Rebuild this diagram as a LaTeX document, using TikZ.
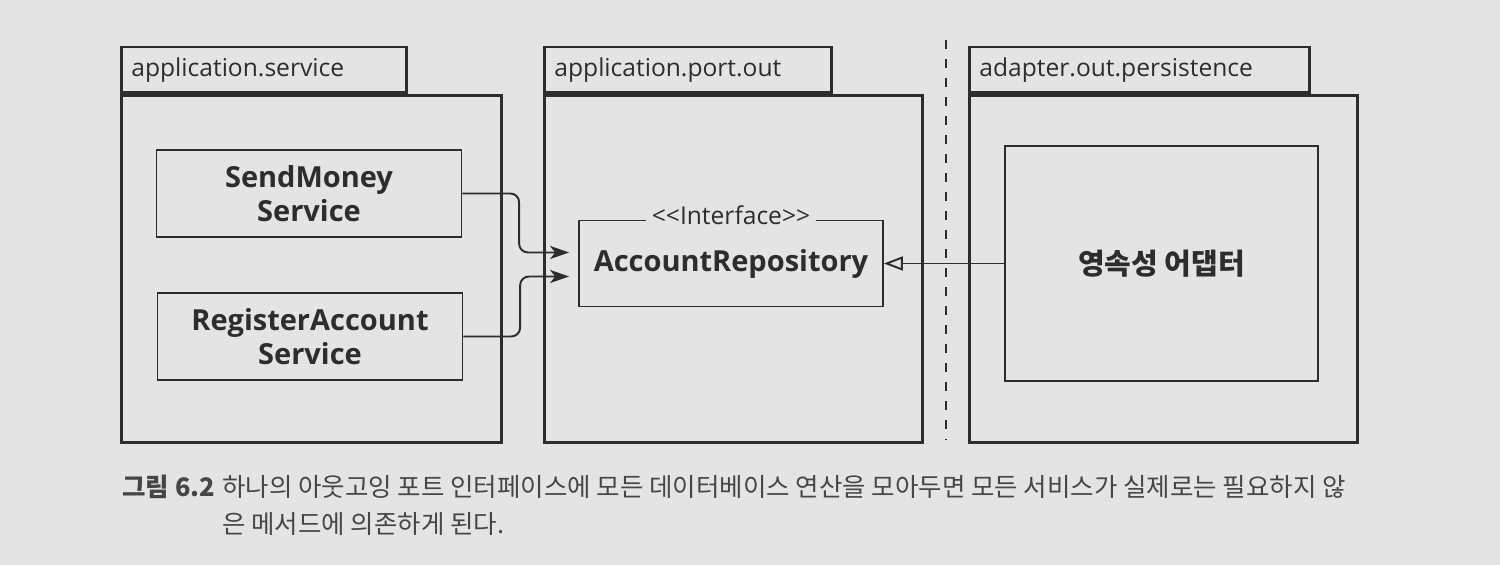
\documentclass[tikz,border=0pt]{standalone}
\usepackage{fontspec}
\setmainfont{Open Sans}
\newfontfamily\krfont{Noto Sans CJK KR}
\usetikzlibrary{arrows.meta,positioning}
\definecolor{paper}{RGB}{228,228,228}
\definecolor{ink}{RGB}{45,45,45}
\definecolor{capink}{RGB}{70,70,70}
\newcommand{\pkgsize}{\fontsize{14pt}{16pt}\selectfont}
\newcommand{\boxsize}{\fontsize{16.5pt}{19.5pt}\selectfont\bfseries}
\newcommand{\capsize}{\fontsize{14.5pt}{17pt}\selectfont}

\begin{document}
\begin{tikzpicture}[
  pkgtab/.style={draw=ink, line width=1.6pt, minimum height=0.91cm, inner xsep=0.2cm, align=left, anchor=south west, font=\pkgsize, text=ink},
  pkgbody/.style={draw=ink, line width=1.6pt, minimum height=6.95cm, anchor=north west},
  classbox/.style={draw=ink, line width=1pt, align=center, font=\boxsize, text=ink},
  dep/.style={draw=ink, line width=1.1pt, rounded corners=5pt, -{Stealth[length=0.38cm,width=0.26cm,inset=0.1cm]}},
  realize/.style={draw=ink, line width=1.1pt, -{Triangle[open,length=0.38cm,width=0.28cm,fill=paper]}},
  sepline/.style={draw=ink, line width=1.2pt, dash pattern=on 0.18cm off 0.2cm}
]
\fill[paper] (0,0) rectangle (30,11.3);
\useasboundingbox (0,0) rectangle (30,11.3);

% packages
\node[pkgbody, minimum width=7.6cm] (svcbody) at (2.40,9.42) {};
\node[pkgtab, text width=5.3cm] (svctab) at (svcbody.north west) {application.service};
\node[pkgbody, minimum width=7.56cm] (portbody) at (10.86,9.42) {};
\node[pkgtab, text width=5.34cm] (porttab) at (portbody.north west) {application.port.out};
\node[pkgbody, minimum width=7.76cm] (adptbody) at (19.36,9.42) {};
\node[pkgtab, text width=6.4cm] (adpttab) at (adptbody.north west) {adapter.out.persistence};

% separator
\coordinate (sepTop) at (18.92,10.5);
\coordinate (sepBot) at (18.92,2.5);
\draw[sepline] (sepTop) -- (sepBot);

% classes
\node[classbox, minimum width=6.1cm, minimum height=1.74cm] (sendsvc) at (6.18,7.43) {SendMoney\\Service};
\node[classbox, minimum width=6.1cm, minimum height=1.74cm] (regsvc) at (6.20,4.57) {RegisterAccount\\Service};
\node[classbox, minimum width=6.08cm, minimum height=1.72cm] (repo) at (14.62,6.03) {AccountRepository};
\node[fill=paper, inner xsep=0.12cm, inner ysep=1pt, font=\fontsize{14pt}{16pt}\selectfont, text=ink] (stereo) at ([yshift=0.08cm]repo.north) {<\kern0pt<Interface>\kern0pt>};
\node[classbox, minimum width=6.26cm, minimum height=4.7cm] (adapter) at (23.23,6.03) {\krfont\bfseries 영속성 어댑터};

% connectors
\draw[dep] (sendsvc.east) -| ([xshift=-1.18cm,yshift=0.22cm]repo.west) -- ([xshift=-0.18cm,yshift=0.22cm]repo.west);
\draw[dep] (regsvc.east) -| ([xshift=-1.16cm,yshift=-0.26cm]repo.west) -- ([xshift=-0.18cm,yshift=-0.26cm]repo.west);
\draw[realize] (adapter.west) -- (repo.east);

% caption
\node[anchor=base west, inner sep=0, font=\krfont\capsize\bfseries, text=capink] (fignum) at (2.44,1.36) {그림 6.2};
\node[anchor=base west, inner sep=0, font=\krfont\capsize, text=capink] (cap1) at (4.44,1.36) {하나의 아웃고잉 포트 인터페이스에 모든 데이터베이스 연산을 모아두면 모든 서비스가 실제로는 필요하지 않};
\node[anchor=base west, inner sep=0, font=\krfont\capsize, text=capink] (cap2) at (4.44,0.62) {은 메서드에 의존하게 된다.};
\end{tikzpicture}
\end{document}
